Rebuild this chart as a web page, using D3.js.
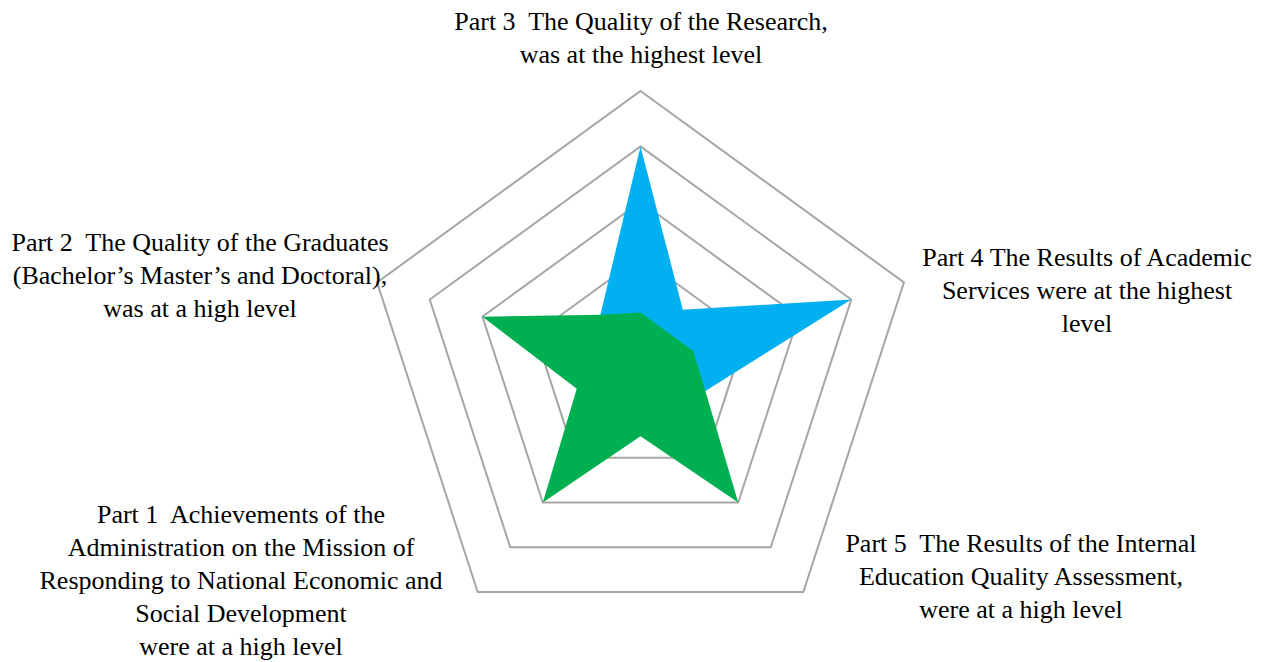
<!DOCTYPE html>
<html>
<head>
<meta charset="utf-8">
<script src="https://cdn.jsdelivr.net/npm/d3@7"></script>
<style>
  html, body { margin: 0; padding: 0; background: #fff; }
  #chart text { font-family: "Liberation Serif", "Times New Roman", serif; fill: #000; white-space: pre; }
</style>
</head>
<body>
<div id="chart"></div>
<script>
// spokes clockwise from the top; the labelled parts sit on every second spoke
var partLabels = [
  ["Part 3  The Quality of the Research,", "was at the highest level"],
  ["Part 4 The Results of Academic", "Services were at the highest", "level"],
  ["Part 5  The Results of the Internal", "Education Quality Assessment,", "were at a high level"],
  ["Part 1  Achievements of the", "Administration on the Mission of", "Responding to National Economic and", "Social Development", "were at a high level"],
  ["Part 2  The Quality of the Graduates", "(Bachelor\u2019s Master\u2019s and Doctoral),", "was at a high level"]
];
var gridLevels = [1, 2, 3, 4, 5];
// 10 points per series: part, between, part, between ...
var blueValues  = [4, 1.3, 4, 1.27, 1, 1.1, 1, 1.1, 1, 1.22];
var greenValues = [1, 0.81, 1, 1.22, 3, 1.23, 3, 1.21, 3, 1.19];

var width = 1265, height = 662;
var cx = 640.5, cy = 368, radius = 277;

var svg = d3.select("#chart").append("svg")
    .attr("width", width)
    .attr("height", height);

var r = d3.scaleLinear().domain([0, 5]).range([0, radius]);
var nParts = partLabels.length;

var g = svg.append("g").attr("transform", "translate(" + cx + "," + cy + ")");

// pentagon grid
var gridLine = d3.lineRadial()
    .angle(function(d, i) { return i * 2 * Math.PI / nParts; })
    .radius(function(d) { return r(d); })
    .curve(d3.curveLinearClosed);

g.selectAll(".grid")
  .data(gridLevels)
  .enter().append("path")
    .attr("class", "grid")
    .attr("d", function(lv) { return gridLine(d3.range(nParts).map(function() { return lv; })); })
    .style("fill", "none")
    .style("stroke", "#a6a6a6")
    .style("stroke-width", 2);

// series
var starLine = d3.lineRadial()
    .angle(function(d, i) { return i * 2 * Math.PI / (nParts * 2); })
    .radius(function(d) { return r(d); })
    .curve(d3.curveLinearClosed);

g.append("path")
    .attr("d", starLine(blueValues))
    .style("fill", "#00b0f0");

g.append("path")
    .attr("d", starLine(greenValues))
    .style("fill", "#00b050");

// labels (anchor = centre x, baseline of first line)
var labelPos = [
  [641, 30],
  [1087, 266],
  [1021, 552],
  [241, 523],
  [200, 251]
];
var lineGap = 33;

partLabels.forEach(function(lines, i) {
  var t = svg.append("text")
      .attr("x", labelPos[i][0])
      .attr("y", labelPos[i][1])
      .attr("text-anchor", "middle")
      .style("font-size", "26px");
  t.selectAll("tspan")
    .data(lines)
    .enter().append("tspan")
      .attr("x", labelPos[i][0])
      .attr("y", function(d, j) { return labelPos[i][1] + j * lineGap; })
      .text(function(d) { return d; });
});
</script>
</body>
</html>
